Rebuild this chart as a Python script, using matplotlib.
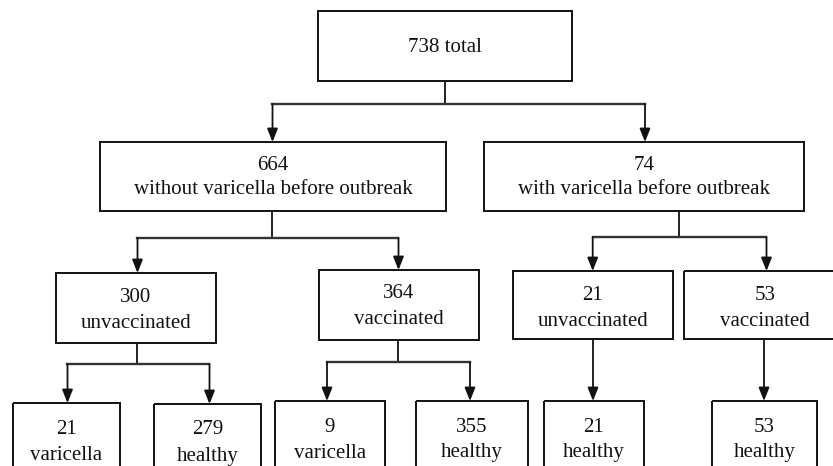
import matplotlib
matplotlib.use("Agg")
import matplotlib.pyplot as plt
from matplotlib.patches import Rectangle

# ---- data ----
node_counts = [738, 664, 74, 300, 364, 21, 53, 21, 279, 9, 355, 21, 53]
node_labels = ["total",
               "without varicella before outbreak", "with varicella before outbreak",
               "unvaccinated", "vaccinated", "unvaccinated", "vaccinated",
               "varicella", "healthy", "varicella", "healthy", "healthy", "healthy"]
# parent index of each node (None for root)
node_parent = [None, 0, 0, 1, 1, 2, 2, 3, 3, 4, 4, 5, 6]

# ---- layout (pixel coordinates: x0, y0, x1, y1) ----
boxes = [
    (318, 11, 572, 81),
    (100, 142, 446, 211),
    (484, 142, 804, 211),
    (56, 273, 216, 343),
    (319, 270, 479, 340),
    (513, 271, 673, 339),
    (684, 271, 846, 339),
    (13, 403, 120, 480),
    (154, 404, 261, 480),
    (275, 401, 385, 480),
    (416, 401, 528, 480),
    (544, 401, 644, 480),
    (712, 401, 817, 480),
]
arrow_x = {1: 272.5, 2: 645, 3: 137.5, 4: 398.5, 5: 592.7, 6: 766.5,
           7: 67.5, 8: 209.5, 9: 327, 10: 470, 11: 593, 12: 764}
stem_x = {0: 445, 1: 272.5, 2: 679.5, 3: 137.5, 4: 398.5, 5: 593, 6: 764}
junction_y = {0: 104, 1: 238, 2: 237, 3: 364, 4: 362, 5: None, 6: None}

W, H = 833, 466
fig = plt.figure(figsize=(W / 100, H / 100), dpi=100)
ax = fig.add_axes([0, 0, 1, 1])
ax.set_xlim(0, W)
ax.set_ylim(H, 0)
ax.axis("off")

font = dict(family=["Liberation Serif", "DejaVu Serif"], fontsize=15, color="#111111")
lw_box = 1.4
lw_line = 1.3
line_col = "#333333"
arrow_style = "-|>,head_length=0.8,head_width=0.32"

for i, (x0, y0, x1, y1) in enumerate(boxes):
    ax.add_patch(Rectangle((x0, y0), x1 - x0, y1 - y0, fill=False,
                           edgecolor="#111111", linewidth=lw_box, zorder=3))
    cx = (x0 + x1) / 2
    if i == 0:
        ax.text(cx, 48, f"{node_counts[i]} {node_labels[i]}", ha="center", va="center", **font)
    else:
        if i >= 7:
            ty1, ty2 = y0 + 26, y0 + 52
        elif i >= 3:
            ty1, ty2 = y0 + 24, y0 + 50
        else:
            ty1, ty2 = y0 + 23, y0 + 48
        ax.text(cx, ty1, str(node_counts[i]), ha="center", va="center", **font)
        ax.text(cx, ty2, node_labels[i], ha="center", va="center", **font)

# connectors
for p in range(7):
    children = [c for c, par in enumerate(node_parent) if par == p]
    if not children:
        continue
    py1 = boxes[p][3]
    sx = stem_x[p]
    jy = junction_y[p]
    if jy is None:
        c = children[0]
        ty = boxes[c][1]
        ax.annotate("", xy=(sx, ty), xytext=(sx, py1),
                    arrowprops=dict(arrowstyle=arrow_style,
                                    color="#111111", lw=lw_line, shrinkA=0, shrinkB=0))
        continue
    ax.plot([sx, sx], [py1, jy], color="#111111", lw=lw_line, solid_capstyle="butt")
    xs = [arrow_x[c] for c in children]
    ax.plot([min(xs), max(xs)], [jy, jy], color=line_col, lw=lw_line + 0.4,
            solid_capstyle="projecting")
    for c in children:
        ax.annotate("", xy=(arrow_x[c], boxes[c][1]), xytext=(arrow_x[c], jy),
                    arrowprops=dict(arrowstyle=arrow_style,
                                    color="#111111", lw=lw_line, shrinkA=0, shrinkB=0))

fig.savefig("out.png", dpi=100)
